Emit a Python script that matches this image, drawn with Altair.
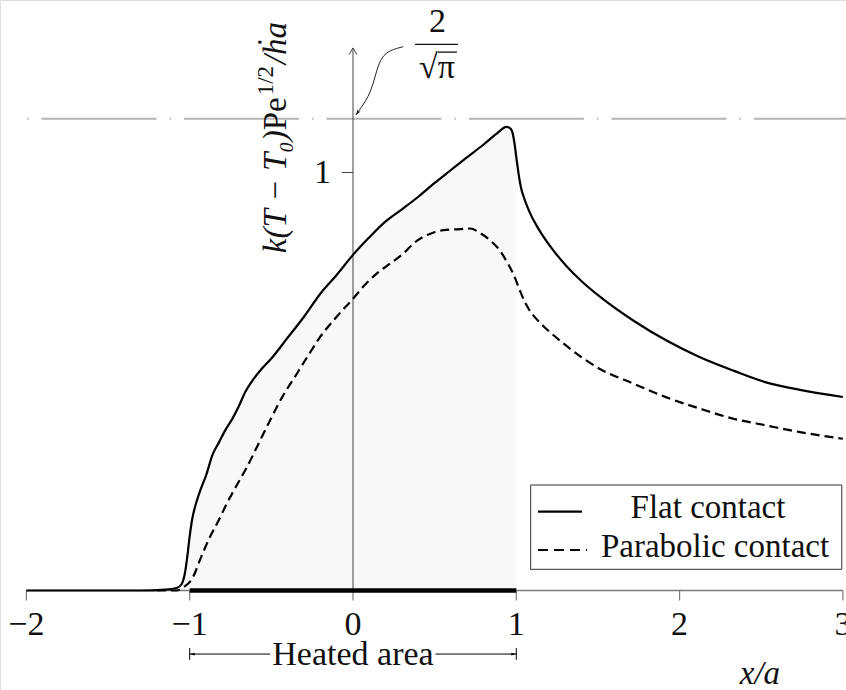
import math
import altair as alt
import pandas as pd

# Dimensionless surface temperature k(T - T0) Pe^(1/2) / (h a) along x/a
flat_x = [-2.0, -1.3, -1.15, -1.08, -1.05, -1.03, -1.015, -1.0, -0.985, -0.96,
          -0.93, -0.90, -0.86, -0.82, -0.78, -0.74, -0.70, -0.66, -0.62, -0.56,
          -0.50, -0.40, -0.30, -0.20, -0.10, 0.0, 0.10, 0.20, 0.30, 0.40,
          0.50, 0.60, 0.70, 0.80, 0.88, 0.94, 0.965, 0.98, 0.99, 1.0,
          1.01, 1.02, 1.03, 1.045, 1.065, 1.09, 1.12, 1.165, 1.23, 1.308,
          1.40, 1.512, 1.716, 1.92, 2.125, 2.33, 2.53, 2.737, 3.0]
flat_y = [0.0, 0.0, 0.002, 0.006, 0.015, 0.04, 0.08, 0.13, 0.17, 0.21,
          0.245, 0.275, 0.325, 0.355, 0.385, 0.41, 0.44, 0.475, 0.50, 0.53,
          0.555, 0.605, 0.655, 0.71, 0.755, 0.803, 0.845, 0.883, 0.912, 0.942,
          0.975, 1.006, 1.037, 1.067, 1.093, 1.109, 1.105, 1.09, 1.067, 1.037,
          1.008, 0.982, 0.962, 0.942, 0.921, 0.898, 0.876, 0.847, 0.812, 0.776,
          0.740, 0.703, 0.646, 0.598, 0.558, 0.526, 0.498, 0.48, 0.463]

para_x = [-1.2, -1.08, -1.05, -1.03, -1.0, -0.98, -0.93, -0.876, -0.82, -0.774,
          -0.70, -0.65, -0.58, -0.508, -0.43, -0.345, -0.27, -0.202, -0.10, 0.0,
          0.07, 0.145, 0.22, 0.308, 0.37, 0.43, 0.49, 0.553, 0.63, 0.716,
          0.78, 0.839, 0.90, 0.94, 0.982, 1.02, 1.05, 1.08, 1.12, 1.165,
          1.23, 1.308, 1.512, 1.716, 1.92, 2.125, 2.33, 2.53, 2.737, 3.0]
para_y = [0.0, 0.0, 0.005, 0.01, 0.02, 0.032, 0.08, 0.128, 0.17, 0.207,
          0.26, 0.295, 0.35, 0.407, 0.465, 0.518, 0.565, 0.606, 0.655, 0.698,
          0.73, 0.758, 0.78, 0.806, 0.83, 0.846, 0.856, 0.862, 0.864, 0.866,
          0.855, 0.838, 0.813, 0.788, 0.757, 0.72, 0.692, 0.671, 0.651, 0.633,
          0.61, 0.585, 0.530, 0.495, 0.462, 0.435, 0.411, 0.395, 0.379, 0.363]

series_names = ["Flat contact", "Parabolic contact"]
x_ticks = [-2, -1, 0, 1, 2, 3]
x_tick_labels = ["\u22122", "\u22121", "0", "1", "2", "3"]
y_ticks = [1]
y_tick_labels = ["1"]
heated_zone = [-1.0, 1.0]
limit_value = 2 / math.sqrt(math.pi)

FONT = "Liberation Serif"
xs = alt.Scale(domain=[-2.1616, 3.0190], nice=False, zero=False)
ys = alt.Scale(domain=[-0.2380, 1.4127], nice=False, zero=False)


def X(f):
    return alt.X(f, type="quantitative", scale=xs, axis=None)


def Y(f):
    return alt.Y(f, type="quantitative", scale=ys, axis=None)


flat = pd.DataFrame({"x": flat_x, "y": flat_y})
para = pd.DataFrame({"x": para_x, "y": para_y})
shade = flat[(flat.x >= -1.05) & (flat.x <= heated_zone[1])]

# shaded heated region under the flat-contact profile
area = alt.Chart(shade).mark_area(color="#f8f8f8", interpolate="monotone").encode(
    x=X("x"), y=Y("y"), y2=alt.datum(0))

# asymptotic level 2/sqrt(pi), dash-dot
limit = alt.Chart(pd.DataFrame({"x0": [-2.076], "x1": [3.05], "y": [limit_value]})).mark_rule(
    color="#b4b4b4", strokeWidth=2, strokeDash=[115, 13, 1.5, 13], strokeDashOffset=115
).encode(x=X("x0"), x2="x1:Q", y=Y("y"))

# x axis drawn through y = 0
x_axis = alt.Chart(pd.DataFrame({"x0": [x_ticks[0]], "x1": [x_ticks[-1]], "y": [0]})).mark_rule(
    color="#7a7a7a", strokeWidth=1.5).encode(x=X("x0"), x2="x1:Q", y=Y("y"))
tick_df = pd.DataFrame({"x": x_ticks, "label": x_tick_labels, "y0": 0.0, "y1": -0.024,
                        "ly": -0.1065})
x_tick_marks = alt.Chart(tick_df).mark_rule(color="#7a7a7a", strokeWidth=1.2).encode(
    x=X("x"), y=Y("y0"), y2="y1:Q")
x_tick_text = alt.Chart(tick_df).mark_text(
    font=FONT, fontSize=34, align="center", baseline="alphabetic", color="#111"
).encode(x=X("x"), y=Y("ly"), text="label:N")

# y axis along x = 0 with arrow tip
y_top = 1.298
y_axis = alt.Chart(pd.DataFrame({"x": [0.0], "y0": [0.0], "y1": [y_top]})).mark_rule(
    color="#444", strokeWidth=1).encode(x=X("x"), y=Y("y0"), y2="y1:Q")
y_arrow = alt.Chart(pd.DataFrame({"x": [0.0], "y": [y_top]})).mark_point(
    shape="M-0.55,0.95L0,0L0.55,0.95", filled=False, stroke="#444", strokeWidth=1,
    size=200, opacity=1).encode(x=X("x"), y=Y("y"))
ytick_df = pd.DataFrame({"y": y_ticks, "label": y_tick_labels, "x0": -0.068, "x1": 0.0,
                         "lx": -0.187, "ly": [v - 0.025 for v in y_ticks]})
y_tick_marks = alt.Chart(ytick_df).mark_rule(color="#444", strokeWidth=1).encode(
    x=X("x0"), x2="x1:Q", y=Y("y"))
y_tick_text = alt.Chart(ytick_df).mark_text(
    font=FONT, fontSize=34, align="center", baseline="alphabetic", color="#111"
).encode(x=X("lx"), y=Y("ly"), text="label:N")

# temperature profiles
flat_line = alt.Chart(flat).mark_line(color="black", strokeWidth=2.2, interpolate="monotone").encode(
    x=X("x"), y=Y("y"))
para_line = alt.Chart(para).mark_line(color="black", strokeWidth=2.2, strokeDash=[9, 5],
                                      interpolate="monotone").encode(x=X("x"), y=Y("y"))

# heat source strip
strip = alt.Chart(pd.DataFrame({"x0": [heated_zone[0]], "x1": [heated_zone[1]], "y": [0.0]})).mark_rule(
    color="black", strokeWidth=4.5).encode(x=X("x0"), x2="x1:Q", y=Y("y"))

# "Heated area" dimension line
dim_y = -0.152
dim_df = pd.DataFrame({"x0": [heated_zone[0], 0.505], "x1": [-0.508, heated_zone[1]], "y": dim_y})
dim_lines = alt.Chart(dim_df).mark_rule(color="black", strokeWidth=1).encode(
    x=X("x0"), x2="x1:Q", y=Y("y"))
dim_ends = alt.Chart(pd.DataFrame({"x": heated_zone, "y0": -0.1375, "y1": -0.166})).mark_rule(
    color="black", strokeWidth=1).encode(x=X("x"), y=Y("y0"), y2="y1:Q")
dim_heads = alt.Chart(pd.DataFrame({"x": heated_zone, "y": dim_y, "ang": [270, 90]})).mark_point(
    shape="M0,0L0.45,1.6L-0.45,1.6Z", filled=True, color="black", size=40, opacity=1
).encode(x=X("x"), y=Y("y"), angle=alt.Angle("ang:Q", scale=None))
dim_text = alt.Chart(pd.DataFrame({"x": [0.0], "y": [-0.178], "t": ["Heated area"]})).mark_text(
    font=FONT, fontSize=34, align="center", baseline="alphabetic", color="#111"
).encode(x=X("x"), y=Y("y"), text="t:N")

# axis label x/a
x_label = alt.Chart(pd.DataFrame({"x": [2.492], "y": [-0.2237], "t": ["x/a"]})).mark_text(
    font=FONT, fontSize=33, fontStyle="italic", align="center", baseline="alphabetic", color="#111"
).encode(x=X("x"), y=Y("y"), text="t:N")

# rotated y label: k(T − T₀)Pe^{1/2}/ḣa, built from pieces sharing one anchor
ylab_x = -0.41
ylab_y = 1.18
ylab = pd.DataFrame({
    "t": ["k(T \u2212 T\u2080)", "Pe", "1/2", "/\u1e23a"],
    "dx": [-33, 0, 2, 33],
    "dy": [0, 0, -13, 0],
    "size": [33, 33, 23, 33],
    "style": ["italic", "normal", "normal", "italic"],
    "align": ["right", "right", "left", "left"],
})
y_label_layers = []
for _, r in ylab.iterrows():
    y_label_layers.append(
        alt.Chart(pd.DataFrame({"x": [ylab_x], "y": [ylab_y], "t": [r.t]})).mark_text(
            font=FONT, fontSize=int(r["size"]), fontStyle=r["style"], align=r["align"],
            baseline="alphabetic", angle=270, dx=int(r.dx), dy=int(r.dy), color="#111"
        ).encode(x=X("x"), y=Y("y"), text="t:N")
    )

# 2/√π callout with curved pointer
frac_text = alt.Chart(pd.DataFrame({"x": [0.517, 0.514], "y": [1.336, 1.226],
                                    "t": ["2", "\u221a\u03c0"]})).mark_text(
    font=FONT, fontSize=34, align="center", baseline="alphabetic", color="#111"
).encode(x=X("x"), y=Y("y"), text="t:N")
frac_bar = alt.Chart(pd.DataFrame({"x0": [0.380, 0.52], "x1": [0.643, 0.637],
                                   "y": [1.3067, 1.288]})).mark_rule(
    color="#111", strokeWidth=1.3).encode(x=X("x0"), x2="x1:Q", y=Y("y"))
pointer_x = [0.308, 0.227, 0.176, 0.145, 0.125, 0.094, 0.053, 0.018]
pointer_y = [1.301, 1.293, 1.277, 1.245, 1.213, 1.181, 1.157, 1.1376]
pointer = alt.Chart(pd.DataFrame({"x": pointer_x, "y": pointer_y, "o": range(len(pointer_x))})).mark_line(
    color="#222", strokeWidth=1, interpolate="basis").encode(x=X("x"), y=Y("y"), order="o:Q")
pointer_head = alt.Chart(pd.DataFrame({"x": [pointer_x[-1]], "y": [pointer_y[-1]], "ang": [214]})).mark_point(
    shape="M0,0L0.55,1.6L0,1.2L-0.55,1.6Z", filled=True, color="#222", size=50, opacity=1
).encode(x=X("x"), y=Y("y"), angle=alt.Angle("ang:Q", scale=None))

# legend box
legend_box = alt.Chart(pd.DataFrame({"x0": [1.088], "x1": [2.993], "y0": [0.0507], "y1": [0.2524]})).mark_rect(
    fill="white", stroke="#333", strokeWidth=1).encode(x=X("x0"), x2="x1:Q", y=Y("y0"), y2="y1:Q")
leg_solid = alt.Chart(pd.DataFrame({"x0": [1.133], "x1": [1.402], "y": [0.1885]})).mark_rule(
    color="black", strokeWidth=2.2).encode(x=X("x0"), x2="x1:Q", y=Y("y"))
leg_dash = alt.Chart(pd.DataFrame({"x0": [1.133], "x1": [1.433], "y": [0.0969]})).mark_rule(
    color="black", strokeWidth=2.2, strokeDash=[10, 6]).encode(x=X("x0"), x2="x1:Q", y=Y("y"))
leg_text = alt.Chart(pd.DataFrame({"x": [2.174, 2.217], "y": [0.1735, 0.0801],
                                   "t": series_names})).mark_text(
    font=FONT, fontSize=33, align="center", baseline="alphabetic", color="#111"
).encode(x=X("x"), y=Y("y"), text="t:N")

chart = alt.layer(
    area, limit, x_axis, x_tick_marks, x_tick_text, y_axis, y_arrow, y_tick_marks, y_tick_text,
    flat_line, para_line, strip, dim_lines, dim_ends, dim_heads, dim_text, x_label,
    *y_label_layers, frac_text, frac_bar, pointer, pointer_head,
    legend_box, leg_solid, leg_dash, leg_text,
).properties(
    width=846, height=690,
    autosize=alt.AutoSizeParams(type="none"),
    padding=0,
).configure_view(stroke=None).configure(background="white")

chart.save("out.html", embed_options={"renderer": "svg", "actions": False})
